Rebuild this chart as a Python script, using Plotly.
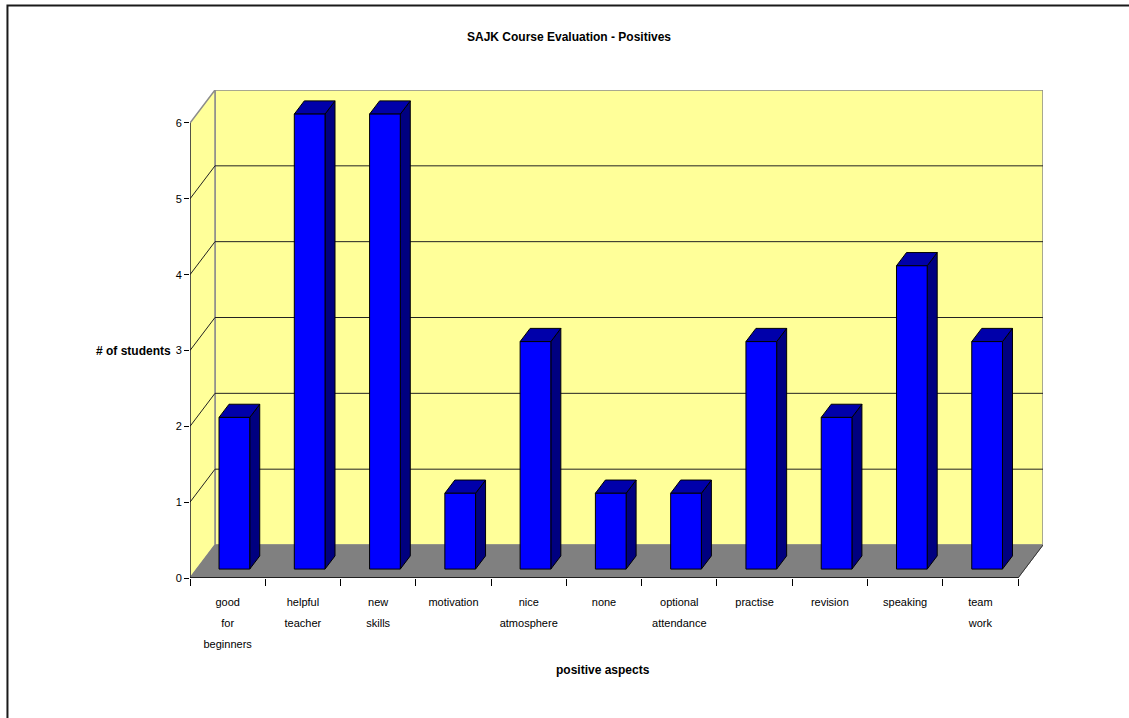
import plotly.graph_objects as go

# Survey results: positive aspects named by students
categories = ["good<br>for<br>beginners", "helpful<br>teacher", "new<br>skills", "motivation",
              "nice<br>atmosphere", "none", "optional<br>attendance", "practise",
              "revision", "speaking", "team<br>work"]
counts = [2, 6, 6, 1, 3, 1, 1, 3, 2, 4, 3]
y_ticks = [0, 1, 2, 3, 4, 5, 6]

FONT = "Liberation Sans Narrow, Arial Narrow, Liberation Sans, Arial, sans-serif"
WALL_DX, WALL_DY = 0.332, 0.435      # oblique depth of the chart box (axis units)
BAR_FRONT, BAR_DEPTH = 0.27, 0.40    # bar placement inside the depth (fraction)
BAR_HALF = 0.204                     # half width of a bar (category units)
YMAX = max(y_ticks)
N = len(categories)

fig = go.Figure()

fdx, fdy = WALL_DX * BAR_FRONT, WALL_DY * BAR_FRONT
bdx, bdy = WALL_DX * BAR_DEPTH, WALL_DY * BAR_DEPTH
edge = dict(color="black", width=1)

for i, v in enumerate(counts):
    x0 = i + 0.5 - BAR_HALF + fdx
    x1 = i + 0.5 + BAR_HALF + fdx
    y0 = fdy
    y1 = v + fdy
    faces = [
        ([x1, x1 + bdx, x1 + bdx, x1, x1], [y0, y0 + bdy, y1 + bdy, y1, y0], "#000080"),
        ([x0, x1, x1 + bdx, x0 + bdx, x0], [y1, y1, y1 + bdy, y1 + bdy, y1], "#0000AA"),
        ([x0, x1, x1, x0, x0], [y0, y0, y1, y1, y0], "#0000FF"),
    ]
    for xs, ys, col in faces:
        fig.add_trace(go.Scatter(x=xs, y=ys, mode="lines", fill="toself", fillcolor=col,
                                 line=edge, hoverinfo="skip", showlegend=False))

shapes = []
# back wall
shapes.append(dict(type="path", xref="x", yref="y", layer="below",
                   path=f"M {WALL_DX},{WALL_DY} L {N + WALL_DX},{WALL_DY} L {N + WALL_DX},{YMAX + WALL_DY} "
                        f"L {WALL_DX},{YMAX + WALL_DY} Z",
                   fillcolor="#FFFF99", line=dict(color="#8C8C8C", width=1.5)))
# side wall
shapes.append(dict(type="path", xref="x", yref="y", layer="below",
                   path=f"M 0,0 L {WALL_DX},{WALL_DY} L {WALL_DX},{YMAX + WALL_DY} L 0,{YMAX} Z",
                   fillcolor="#FFFF99", line=dict(color="#8C8C8C", width=1.5)))
# floor
shapes.append(dict(type="path", xref="x", yref="y", layer="below",
                   path=f"M 0,0 L {N},0 L {N + WALL_DX},{WALL_DY} L {WALL_DX},{WALL_DY} Z",
                   fillcolor="#808080", line=dict(color="#808080", width=1)))
# gridlines on back and side walls
for k in y_ticks[1:-1]:
    shapes.append(dict(type="line", xref="x", yref="y", layer="below",
                       x0=WALL_DX, x1=N + WALL_DX, y0=k + WALL_DY, y1=k + WALL_DY,
                       line=dict(color="#222222", width=1)))
    shapes.append(dict(type="line", xref="x", yref="y", layer="below",
                       x0=0, x1=WALL_DX, y0=k, y1=k + WALL_DY,
                       line=dict(color="#222222", width=1)))
# front axis lines and floor edge
shapes.append(dict(type="line", xref="x", yref="y", x0=0, x1=0, y0=0, y1=YMAX,
                   line=dict(color="black", width=1)))
shapes.append(dict(type="line", xref="x", yref="y", x0=0, x1=N, y0=0, y1=0,
                   line=dict(color="black", width=1.5)))
shapes.append(dict(type="line", xref="x", yref="y", x0=N, x1=N + WALL_DX, y0=0, y1=WALL_DY,
                   line=dict(color="#333333", width=1)))
# chart frame
shapes.append(dict(type="rect", xref="paper", yref="paper",
                   x0=-0.2140, x1=1.25, y0=-0.4, y1=1.1732,
                   line=dict(color="#1a1a1a", width=2)))

tick_text = ["<br>".join(f"<span style='font-size:11px'>{p}</span>" for p in c.split("<br>"))
             for c in categories]

fig.update_layout(
    width=1129, height=718,
    margin=dict(l=190, r=86, t=90, b=140),
    paper_bgcolor="white", plot_bgcolor="white",
    font=dict(family=FONT, color="black"),
    shapes=shapes,
    title=dict(text="<b>SAJK Course Evaluation - Positives</b>", xref="container", yref="container",
               x=569 / 1129, y=1 - 37 / 718, xanchor="center", yanchor="middle",
               font=dict(family=FONT, size=12, color="black")),
    xaxis=dict(range=[0, N + WALL_DX], showgrid=False, zeroline=False, showline=False,
               tickmode="array", tickvals=[i + 0.5 for i in range(N)], ticktext=tick_text,
               ticks="", ticklabelstandoff=11,
               tickfont=dict(family=FONT, size=16, color="black"),
               minor=dict(tickmode="array", tickvals=list(range(N + 1)), ticks="outside",
                          ticklen=7, tickcolor="black", tickwidth=1, showgrid=False),
               fixedrange=True),
    yaxis=dict(range=[0, YMAX + WALL_DY], showgrid=False, zeroline=False, showline=False,
               tickmode="array", tickvals=y_ticks, ticks="outside", ticklen=5,
               tickcolor="black", tickfont=dict(family=FONT, size=11, color="black"),
               fixedrange=True),
    annotations=[
        dict(text="<b>positive aspects</b>", xref="paper", yref="paper",
             x=(603 - 190) / 853, y=(578 - 670) / 488, xanchor="center", yanchor="middle",
             showarrow=False, font=dict(family=FONT, size=12, color="black")),
        dict(text="<b># of students</b>", xref="paper", yref="paper",
             x=(173 - 190) / 853, y=(578 - 351) / 488, xanchor="right", yanchor="middle",
             showarrow=False, font=dict(family=FONT, size=12, color="black")),
    ],
)

fig.write_html("out.html")
